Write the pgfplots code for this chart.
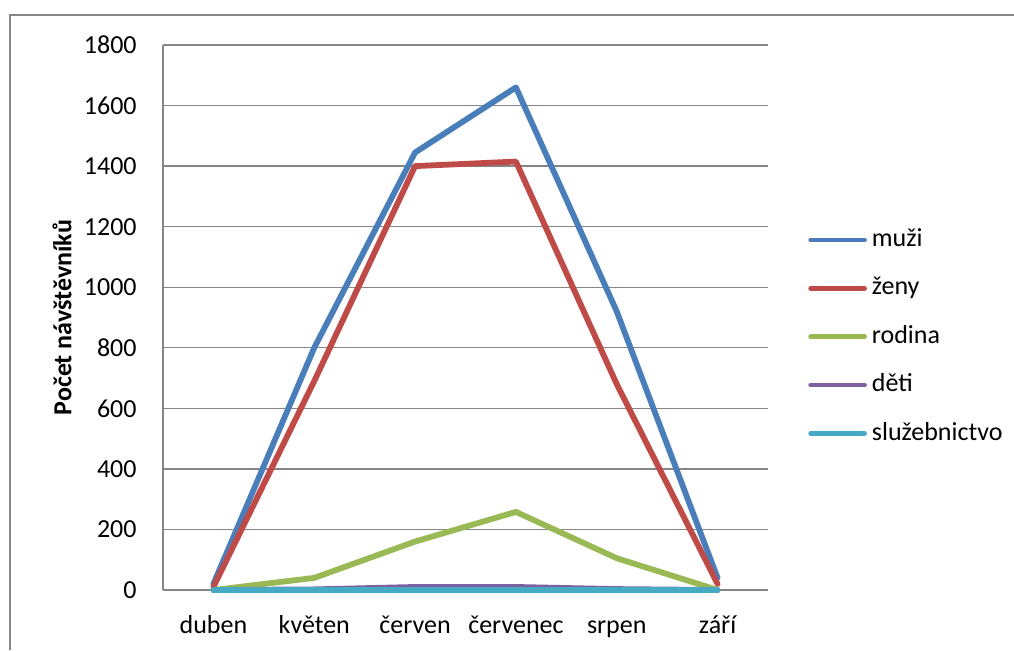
\documentclass[border=0pt]{standalone}
\usepackage{fontspec}
\setmainfont{Carlito}
\usepackage{pgfplots}
\pgfplotsset{compat=1.18}

\definecolor{muzi}{HTML}{4A7EBB}
\definecolor{zeny}{HTML}{BE4B48}
\definecolor{rodina}{HTML}{98B954}
\definecolor{deti}{HTML}{7D60A0}
\definecolor{sluz}{HTML}{46AAC5}
\definecolor{osa}{HTML}{868686}

\begin{document}
\begin{tikzpicture}[font=\fontsize{13}{15}\selectfont]
\useasboundingbox (0,0) rectangle (507pt,325pt);
\begin{axis}[
    at={(81.5pt,30pt)}, anchor=south west,
    scale only axis,
    width=302.5pt, height=272.5pt,
    xmin=-0.5, xmax=5.5,
    ymin=0, ymax=1800,
    xtick={0,1,2,3,4,5},
    xticklabels={duben,květen,červen,červenec,srpen,září},
    ytick={0,200,400,600,800,1000,1200,1400,1600,1800},
    axis lines=left,
    axis line style={-, draw=osa, line width=0.7pt},
    ymajorgrids=true,
    grid style={draw=osa, line width=0.7pt},
    major tick length=0pt,
    /pgf/number format/1000 sep={},
    /pgf/number format/assume math mode=true,
    yticklabel style={anchor=east, inner sep=0pt, xshift=-13pt},
    xticklabel style={anchor=base, inner sep=0pt, yshift=-21.5pt},
    ylabel={\bfseries Počet návštěvníků},
    ylabel style={at={(axis description cs:-0.167,0.5)}, anchor=center},
    clip=false,
    every axis plot/.append style={line width=2.9pt, line join=round, line cap=round},
    legend cell align=left,
    legend style={draw=none, fill=none, inner sep=0pt,
        at={(1.066,0.666)}, anchor=north west,
        row sep=11.7pt, column sep=2.5pt,
        nodes={inner sep=0pt, text height=9.5pt, text depth=3pt}},
    legend image code/.code={\draw[#1, line width=2.3pt] (0pt,0pt) -- (27pt,0pt);},
]
\addplot[color=muzi] coordinates {(0,20)(1,800)(2,1445)(3,1660)(4,920)(5,40)};
\addlegendentry{muži}
\addplot[color=zeny] coordinates {(0,10)(1,690)(2,1400)(3,1415)(4,680)(5,20)};
\addlegendentry{ženy}
\addplot[color=rodina] coordinates {(0,0)(1,40)(2,160)(3,258)(4,105)(5,0)};
\addlegendentry{rodina}
\addplot[color=deti] coordinates {(0,0)(1,2)(2,10)(3,10)(4,3)(5,0)};
\addlegendentry{děti}
\addplot[color=sluz] coordinates {(0,0)(1,0)(2,0)(3,0)(4,0)(5,0)};
\addlegendentry{služebnictvo}
\end{axis}
\draw[osa, line width=0.8pt] (5pt,0pt) -- (5pt,317.5pt) -- (507pt,317.5pt);
\end{tikzpicture}
\end{document}
